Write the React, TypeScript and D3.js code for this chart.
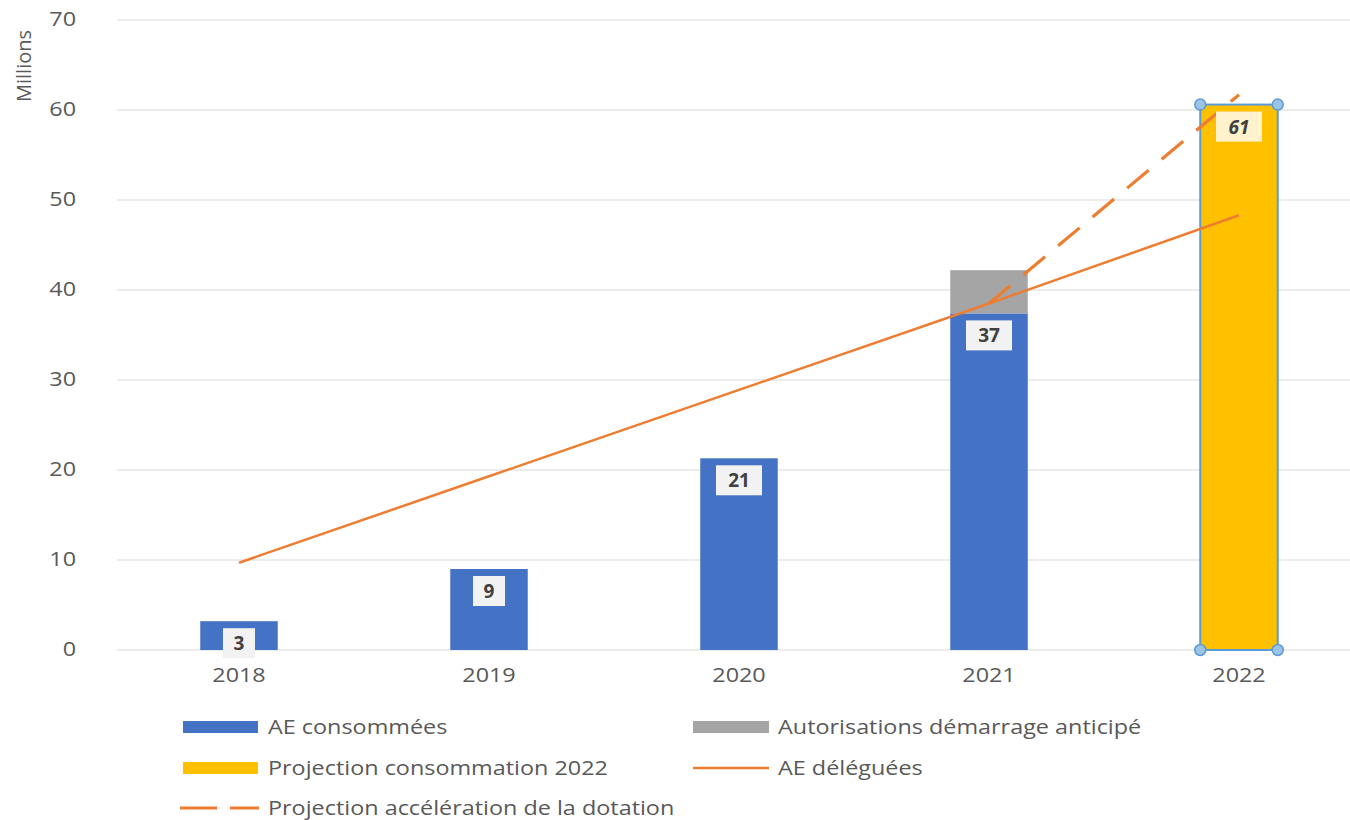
import React from "react";
import * as d3 from "d3";

const years = ["2018", "2019", "2020", "2021", "2022"];
const aeConsommees = [3.2, 9.0, 21.3, 37.4, null];
const autorisations = [null, null, null, 4.8, null];
const projection2022 = [null, null, null, null, 60.6];
const aeDeleguees = [9.7, 19.3, 28.9, 38.5, 48.3];
const projectionAcceleration = [null, null, null, 38.5, 61.7];
const yTicks = [0, 10, 20, 30, 40, 50, 60, 70];
const labelValues = [3, 9, 21, 37, 61];

const FONT = "'Open Sans', 'Noto Sans', sans-serif";
const BLUE = "#4472c4";
const GRAY = "#a5a5a5";
const YELLOW = "#ffc000";
const ORANGE = "#ed7d31";
const TEXT = "#595959";
const SX = 1.17;

function SText(props: { x: number; y: number; anchor?: string; size: number; children: React.ReactNode; fill?: string }) {
  return (
    <text transform={`translate(${props.x},${props.y}) scale(${SX},1)`} textAnchor={props.anchor || "start"}
      fontSize={props.size} fill={props.fill || TEXT}>{props.children}</text>
  );
}

export default function App() {
  const W = 1350, H = 820;
  const x = d3.scaleBand<string>().domain(years).range([114, 1364]).paddingInner(0.69).paddingOuter(0.345);
  const y = d3.scaleLinear().domain([0, 70]).range([650, 20]);
  const bw = x.bandwidth();
  const cx = (i: number) => (x(years[i]) as number) + bw / 2;

  const lineGen = d3.line<[number, number]>().x(d => d[0]).y(d => d[1]);
  const delegPts: [number, number][] = aeDeleguees.map((v, i) => [cx(i), y(v)]);
  const projPts: [number, number][] = [];
  projectionAcceleration.forEach((v, i) => { if (v != null) projPts.push([cx(i), y(v)]); });

  const barTops = years.map((_, i) => {
    if (projection2022[i] != null) return y(projection2022[i] as number);
    return y(aeConsommees[i] as number);
  });

  return (
    <svg width={W} height={H} style={{ position: "absolute", left: 0, top: 0, background: "#fff" }} fontFamily={FONT}>
      {yTicks.map(t => (
        <line key={t} x1={117} x2={1350} y1={y(t)} y2={y(t)} stroke="#d9d9d9" strokeWidth={1} />
      ))}
      {yTicks.map(t => (
        <SText key={"t" + t} x={76} y={y(t) + 6} anchor="end" size={20}>{t}</SText>
      ))}
      <text transform={`translate(31,66) rotate(-90)`} textAnchor="middle" fontSize={20} fill={TEXT}>Millions</text>

      {years.map((yr, i) => aeConsommees[i] != null ? (
        <rect key={"b" + yr} x={x(yr)} y={y(aeConsommees[i] as number)} width={bw} height={y(0) - y(aeConsommees[i] as number)} fill={BLUE} />
      ) : null)}
      {years.map((yr, i) => autorisations[i] != null ? (
        <rect key={"g" + yr} x={x(yr)} y={y((aeConsommees[i] as number) + (autorisations[i] as number))} width={bw}
          height={y(aeConsommees[i] as number) - y((aeConsommees[i] as number) + (autorisations[i] as number))} fill={GRAY} />
      ) : null)}
      {years.map((yr, i) => projection2022[i] != null ? (
        <rect key={"y" + yr} x={x(yr)} y={y(projection2022[i] as number)} width={bw} height={y(0) - y(projection2022[i] as number)} fill={YELLOW} stroke="#5b9bd5" strokeWidth={2} />
      ) : null)}

      <path d={lineGen(delegPts) as string} fill="none" stroke={ORANGE} strokeWidth={2.5} />
      <path d={lineGen(projPts) as string} fill="none" stroke={ORANGE} strokeWidth={3.2} strokeDasharray="28 17" />

      {years.map((yr, i) => {
        const txt = String(labelValues[i]);
        const w = txt.length > 1 ? 46 : 32;
        const top = barTops[i] + 7;
        const isProj = projection2022[i] != null;
        return (
          <g key={"l" + yr}>
            <rect x={cx(i) - w / 2} y={top} width={w} height={30} fill={isProj ? "#fff2cc" : "#f2f2f2"} />
            <text x={cx(i)} y={top + 22} textAnchor="middle" fontSize={19} fontWeight="bold" fontStyle={isProj ? "italic" : "normal"} fill="#404040">{txt}</text>
          </g>
        );
      })}

      {years.map((yr, i) => projection2022[i] != null ? (
        <g key={"h" + yr}>
          {[[x(yr) as number, y(projection2022[i] as number)], [(x(yr) as number) + bw, y(projection2022[i] as number)],
            [x(yr) as number, y(0)], [(x(yr) as number) + bw, y(0)]].map((p, k) => (
            <circle key={k} cx={p[0]} cy={p[1]} r={5.5} fill="#9dc3e6" stroke="#5b9bd5" strokeWidth={1.5} />
          ))}
        </g>
      ) : null)}

      {years.map((yr, i) => (
        <SText key={"x" + yr} x={cx(i)} y={682} anchor="middle" size={20}>{yr}</SText>
      ))}

      <rect x={183} y={721} width={75} height={12} fill={BLUE} />
      <SText x={268} y={734} size={20}>AE consommées</SText>
      <rect x={693} y={721} width={76} height={12} fill={GRAY} />
      <SText x={778} y={734} size={20}>Autorisations démarrage anticipé</SText>
      <rect x={183} y={762} width={75} height={12} fill={YELLOW} />
      <SText x={268} y={775} size={20}>Projection consommation 2022</SText>
      <line x1={693} x2={769} y1={768} y2={768} stroke={ORANGE} strokeWidth={2.5} />
      <SText x={778} y={775} size={20}>AE déléguées</SText>
      <line x1={180} x2={259} y1={808} y2={808} stroke={ORANGE} strokeWidth={3} strokeDasharray="37 13" />
      <SText x={268} y={815} size={20}>Projection accélération de la dotation</SText>
    </svg>
  );
}
